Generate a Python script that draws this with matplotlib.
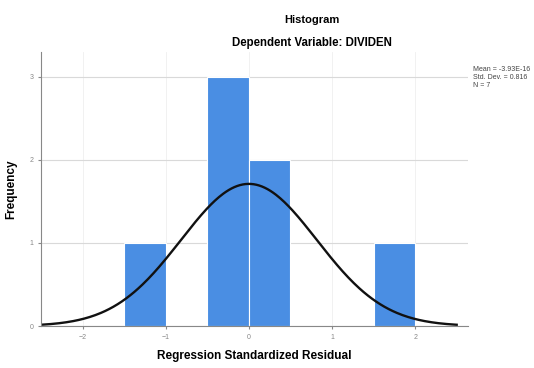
import numpy as np
import matplotlib.pyplot as plt

plt.rcParams['font.family'] = ['Liberation Sans', 'DejaVu Sans']

# histogram bins (edges) and counts
bin_edges = [-1.5, -1.0, -0.5, 0.0, 0.5, 1.0, 1.5, 2.0]
counts = [1, 0, 3, 2, 0, 0, 1]
n_obs = 7
mean_val = 0.0
std_dev = 0.816
stats_text = ["Mean = -3.93E-16", "Std. Dev. = 0.816", "N = 7"]
x_ticks = [-2, -1, 0, 1, 2]
y_ticks = [0, 1, 2, 3]

fig = plt.figure(figsize=(5.34, 3.68), dpi=100)
ax = fig.add_axes([0.077, 0.114, 0.8, 0.745])

ax.set_axisbelow(True)
ax.grid(axis='y', color='#d9d9d9', linewidth=0.8)
ax.grid(axis='x', color='#efefef', linewidth=0.6)

ax.bar(bin_edges[:-1], counts, width=np.diff(bin_edges), align='edge',
       color='#4a8ee3', edgecolor='white', linewidth=0.8)

# normal curve scaled to counts
xs = np.linspace(-2.5, 2.5, 300)
bw = bin_edges[1] - bin_edges[0]
ys = n_obs * bw / (std_dev * np.sqrt(2 * np.pi)) * np.exp(-0.5 * ((xs - mean_val) / std_dev) ** 2)
ax.plot(xs, ys, color='#111111', linewidth=1.7)

ax.set_xlim(-2.5, 2.64)
ax.set_ylim(0, 3.3)
ax.set_xticks(x_ticks)
ax.set_yticks(y_ticks)
ax.tick_params(labelsize=5, colors='#888888', length=2)
for s in ['top', 'right']:
    ax.spines[s].set_visible(False)
ax.spines['left'].set_color('#888888')
ax.spines['bottom'].set_color('#888888')

ax.set_xlabel('Regression Standardized Residual', fontsize=8.5, fontweight='bold', labelpad=7)
ax.set_ylabel('Frequency', fontsize=8.5, fontweight='bold', labelpad=9)

fig.text(0.585, 0.946, 'Histogram', ha='center', va='center', fontsize=8, fontweight='bold')
fig.text(0.585, 0.884, 'Dependent Variable: DIVIDEN', ha='center', va='center', fontsize=8.3, fontweight='bold')
fig.text(0.886, 0.82, '\n'.join(stats_text), ha='left', va='top', fontsize=5, color='#444444', linespacing=1.15)

fig.savefig('out.png', dpi=100)
